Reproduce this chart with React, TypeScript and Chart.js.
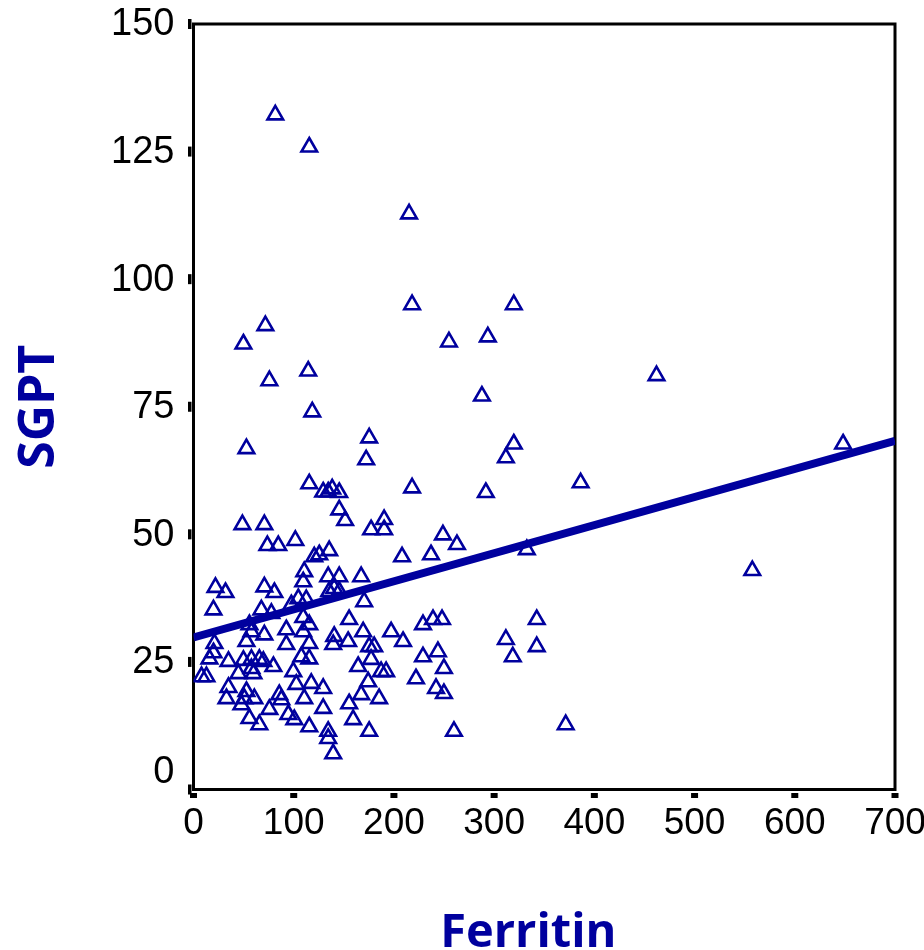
import React, { useEffect, useRef } from "react";
import { Chart, registerables } from "chart.js";

Chart.register(...registerables);

// Ferritin (x) and SGPT (y) per patient
const ferritin = [
  81.6, 115.5, 215.1, 218.1, 319.6, 71.7, 293.7, 254.9, 49.8, 462.0,
  114.5, 75.7, 287.8, 118.5, 648.2, 319.6, 175.3, 52.8, 172.3, 311.7,
  386.3, 218.1, 115.5, 129.4, 134.4, 138.4, 145.4, 291.7, 145.4, 151.3,
  177.2, 190.2, 190.2, 48.8, 70.7, 248.9, 73.7, 84.6, 101.6, 262.9,
  208.1, 237.0, 332.6, 120.5, 125.5, 135.4, 21.9, 31.9, 70.7, 80.7,
  110.5, 109.5, 134.4, 145.4, 167.3, 135.4, 140.4, 145.4, 170.3, 104.6,
  112.5, 19.9, 67.7, 77.7, 97.6, 55.8, 57.8, 70.7, 52.8, 92.6,
  92.6, 20.9, 19.9, 15.9, 34.9, 49.8, 57.8, 65.7, 69.7, 79.7,
  57.8, 59.8, 44.8, 8.0, 12.9, 99.6, 102.6, 34.9, 32.9, 52.8,
  50.8, 60.7, 47.8, 85.6, 87.6, 75.7, 55.8, 65.7, 94.6, 100.6,
  155.3, 115.5, 109.5, 169.3, 197.2, 209.1, 115.5, 140.4, 139.4, 154.3,
  175.3, 180.3, 177.2, 107.6, 115.5, 164.3, 187.2, 192.2, 174.3, 117.5,
  129.4, 167.3, 110.5, 185.2, 155.3, 129.4, 159.3, 115.5, 134.4, 134.4,
  175.3, 139.4, 229.0, 239.0, 248.0, 229.0, 243.9, 249.9, 222.0, 242.0,
  249.9, 259.9, 311.7, 318.6, 342.5, 342.5, 371.4, 557.6, 109.5,
];

const sgpt = [
  132.2, 125.9, 112.8, 95.0, 95.0, 90.9, 88.7, 87.7, 87.3, 81.1,
  82.0, 80.1, 77.1, 74.0, 67.7, 67.7, 68.9, 66.8, 64.6, 65.0,
  60.1, 59.1, 59.9, 58.3, 58.3, 58.9, 58.2, 58.2, 54.8, 52.7,
  50.9, 52.9, 50.9, 51.9, 51.9, 49.9, 47.8, 47.8, 48.8, 48.0,
  45.6, 46.0, 47.0, 45.6, 46.0, 46.8, 39.6, 38.6, 39.7, 38.6,
  42.7, 40.7, 41.7, 41.7, 41.7, 38.8, 39.4, 38.8, 36.8, 37.4,
  37.2, 35.2, 35.2, 34.5, 36.2, 32.3, 30.9, 30.3, 29.0, 31.3,
  28.4, 28.6, 26.8, 25.6, 25.1, 25.3, 25.5, 25.5, 25.1, 24.1,
  23.7, 22.7, 22.7, 22.1, 22.1, 23.1, 20.6, 20.0, 17.8, 19.2,
  17.8, 17.8, 16.6, 18.6, 17.6, 15.7, 13.9, 12.7, 14.7, 13.7,
  33.3, 32.3, 30.9, 30.9, 30.9, 29.0, 28.6, 30.0, 28.4, 29.0,
  28.0, 28.0, 25.5, 26.0, 25.6, 24.1, 23.1, 23.1, 21.1, 20.8,
  19.8, 18.6, 17.8, 17.8, 16.8, 15.9, 13.7, 12.3, 11.4, 10.0,
  11.4, 7.0, 32.3, 33.3, 33.3, 26.0, 27.0, 23.7, 21.7, 19.8,
  18.8, 11.4, 29.4, 26.0, 33.3, 28.0, 12.7, 42.9, 33.7,
];

// Linear fit SGPT ~ Ferritin, evaluated at the ends of the x range
const fitX = [0, 700];
const fitY = [29.8, 68.3];

const xTicks = [0, 100, 200, 300, 400, 500, 600, 700];
const yTicks = [0, 25, 50, 75, 100, 125, 150];

const xTitle = "Ferritin";
const yTitle = "SGPT";

const BLUE = "#00009e";

const framePlugin = {
  id: "spssFrame",
  beforeDatasetsDraw(chart: any) {
    const { ctx, chartArea } = chart;
    ctx.save();
    ctx.strokeStyle = "#000";
    ctx.lineWidth = 3;
    ctx.strokeRect(
      chartArea.left,
      chartArea.top,
      chartArea.right - chartArea.left,
      chartArea.bottom - chartArea.top
    );
    ctx.restore();
  },
  afterDraw(chart: any) {
    const { ctx, chartArea, scales } = chart;
    const { left, right, top, bottom } = chartArea;
    ctx.save();
    ctx.fillStyle = "#000";

    // x axis: short detached tick marks and labels
    ctx.font = "37px 'Liberation Sans', Arial, sans-serif";
    ctx.textAlign = "center";
    ctx.textBaseline = "alphabetic";
    for (const v of xTicks) {
      const px = scales.x.getPixelForValue(v);
      ctx.fillRect(px - 3.5, bottom + 3.5, 7, 5);
      ctx.fillText(String(v), px, bottom + 44);
    }

    // y axis: ticks and right-aligned labels (origin label sits raised)
    ctx.font = "38px 'Liberation Sans', Arial, sans-serif";
    ctx.textAlign = "right";
    ctx.textBaseline = "middle";
    for (const v of yTicks) {
      const py = scales.y.getPixelForValue(v);
      ctx.fillRect(left - 5.5, py - 5, 3.5, 10);
      const ly = v === 0 ? py - 18 : py;
      ctx.fillText(String(v), left - 19, ly + 1);
    }

    // axis titles
    ctx.fillStyle = BLUE;
    ctx.textAlign = "center";
    ctx.textBaseline = "alphabetic";
    ctx.font = "bold 47px 'Open Sans', sans-serif";
    ctx.fillText(xTitle, (left + right) / 2 - 16, bottom + 157);

    ctx.font = "bold 50px 'Open Sans', sans-serif";
    ctx.translate(left - 140, (top + bottom) / 2);
    ctx.rotate(-Math.PI / 2);
    ctx.fillText(yTitle, 0, 0);
    ctx.restore();
  },
};

export default function App() {
  const canvasRef = useRef<HTMLCanvasElement | null>(null);

  useEffect(() => {
    document.body.style.margin = "0";
    const canvas = canvasRef.current;
    if (!canvas) return;

    const points = ferritin.map((x, i) => ({ x, y: sgpt[i] }));
    const fit = fitX.map((x, i) => ({ x, y: fitY[i] }));

    const chart = new Chart(canvas, {
      type: "scatter",
      data: {
        datasets: [
          {
            label: "Fit",
            data: fit,
            showLine: true,
            borderColor: BLUE,
            borderWidth: 8,
            pointRadius: 0,
            fill: false,
          },
          {
            label: "SGPT",
            data: points,
            pointStyle: "triangle",
            pointRadius: 9,
            pointHoverRadius: 9,
            borderWidth: 2.6,
            borderColor: BLUE,
            backgroundColor: "rgba(0,0,0,0)",
          },
        ],
      },
      options: {
        responsive: false,
        animation: false,
        events: [],
        layout: { padding: { top: 24, right: 29, left: 0, bottom: 0 } },
        plugins: {
          legend: { display: false },
          tooltip: { enabled: false },
          title: { display: false },
        },
        scales: {
          x: {
            type: "linear",
            min: 0,
            max: 700,
            grid: { display: false },
            border: { display: false },
            ticks: { display: false },
            afterFit: (s: any) => {
              s.height = 160.5;
            },
          },
          y: {
            type: "linear",
            min: 0,
            max: 150,
            grid: { display: false },
            border: { display: false },
            ticks: { display: false },
            afterFit: (s: any) => {
              s.width = 193.5;
            },
          },
        },
      },
      plugins: [framePlugin],
    });

    return () => chart.destroy();
  }, []);

  return (
    <div style={{ width: 924, height: 950 }}>
      <canvas ref={canvasRef} width={924} height={950} />
    </div>
  );
}
